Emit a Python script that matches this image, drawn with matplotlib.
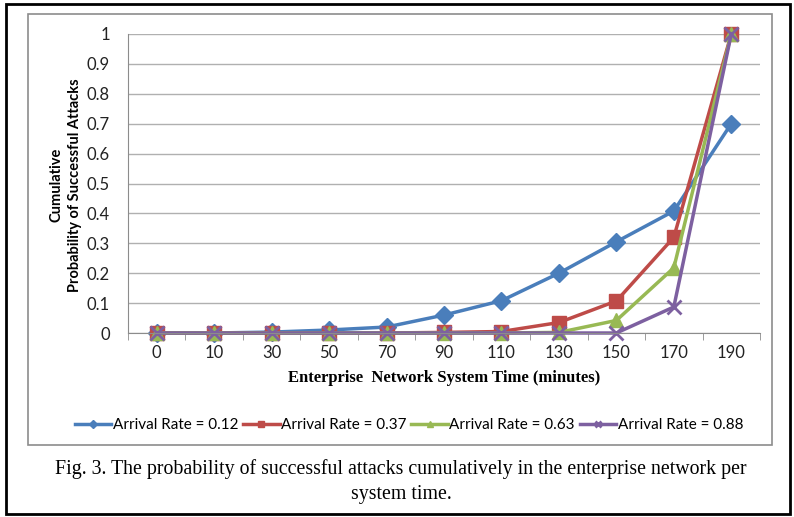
import numpy as np
import matplotlib.pyplot as plt
from matplotlib.patches import Rectangle

# system time categories (minutes)
times = ['0', '10', '30', '50', '70', '90', '110', '130', '150', '170', '190']

# cumulative probability of successful attacks per arrival rate
rate_012 = [0, 0, 0.003, 0.01, 0.02, 0.06, 0.108, 0.2, 0.305, 0.408, 0.70]
rate_037 = [0, 0, 0, 0, 0, 0.002, 0.005, 0.035, 0.107, 0.32, 1.0]
rate_063 = [0, 0, 0, 0, 0, 0, 0, 0.002, 0.042, 0.218, 1.0]
rate_088 = [0, 0, 0, 0, 0, 0, 0, 0, 0, 0.087, 1.0]

series = [
    (rate_012, 'Arrival Rate = 0.12', '#4A7EBB', 'D', 9),
    (rate_037, 'Arrival Rate = 0.37', '#BE4B48', 's', 10),
    (rate_063, 'Arrival Rate = 0.63', '#98B954', '^', 10),
    (rate_088, 'Arrival Rate = 0.88', '#7D60A0', 'x', 10),
]

SANS = 'Lato'
W, H = 794, 517
fig = plt.figure(figsize=(W / 100, H / 100), dpi=100)

def px(x0, y0, x1, y1):
    # pixel box (top-left origin) -> figure fraction rect
    return [x0 / W, 1 - y1 / H, (x1 - x0) / W, (y1 - y0) / H]

# outer black border and grey chart frame
fig.patches.append(Rectangle((6 / W, 1 - 514 / H), 784 / W, 510 / H,
                             transform=fig.transFigure, fill=False,
                             edgecolor='black', linewidth=2))
fig.patches.append(Rectangle((28 / W, 1 - 445 / H), 744 / W, 431 / H,
                             transform=fig.transFigure, fill=False,
                             edgecolor='#8c8c8c', linewidth=1.2))

ax = fig.add_axes(px(128, 34, 760, 333))
x = np.arange(len(times))
for vals, label, color, marker, ms in series:
    ax.plot(x, vals, color=color, marker=marker, markersize=ms,
            linewidth=2.5, label=label, markeredgewidth=2 if marker == 'x' else 1,
            markeredgecolor=color, clip_on=False)

ax.set_xlim(-0.5, len(times) - 0.5)
ax.set_ylim(0, 1)
ax.set_yticks(np.arange(0, 1.01, 0.1))
ax.set_yticklabels(['0'] + ['%.1f' % v for v in np.arange(0.1, 0.95, 0.1)] + ['1'],
                   family=SANS, fontsize=12, color='#222222')
ax.set_xticks(x)
ax.set_xticklabels(times, family=SANS, fontsize=12, color='#222222')
ax.set_xticks(np.arange(-0.5, len(times)), minor=True)
ax.tick_params(axis='x', which='major', length=0, pad=9)
ax.tick_params(axis='x', which='minor', length=5, color='#8c8c8c')
ax.tick_params(axis='y', length=0, pad=13)
ax.grid(axis='y', color='#b0b0b0', linewidth=1)
ax.set_axisbelow(True)
for s in ['top', 'right']:
    ax.spines[s].set_visible(False)
ax.spines['left'].set_color('#8c8c8c')
ax.spines['bottom'].set_color('#8c8c8c')

ax.set_xlabel('Enterprise  Network System Time (minutes)',
              family='Liberation Serif', fontweight='bold', fontsize=12, labelpad=6)
fig.text(66 / W, 1 - 185 / H, 'Cumulative\nProbability of Successful Attacks',
         rotation=90, ha='center', va='center', family=SANS,
         fontweight='bold', fontsize=10.5, linespacing=1.45)

fig.legend(loc='center', bbox_to_anchor=(409 / W, 1 - 425 / H), ncol=4,
           frameon=False, prop={'family': SANS, 'size': 11},
           handlelength=2.4, handletextpad=0.1, columnspacing=0.3, markerscale=0.5)

fig.text(401 / W, 1 - 469 / H,
         'Fig. 3. The probability of successful attacks cumulatively in the enterprise network per',
         ha='center', va='center', family='Liberation Serif', fontsize=14.3)
fig.text(401 / W, 1 - 494 / H, 'system time.',
         ha='center', va='center', family='Liberation Serif', fontsize=14.3)

fig.savefig('out.png', dpi=100)
